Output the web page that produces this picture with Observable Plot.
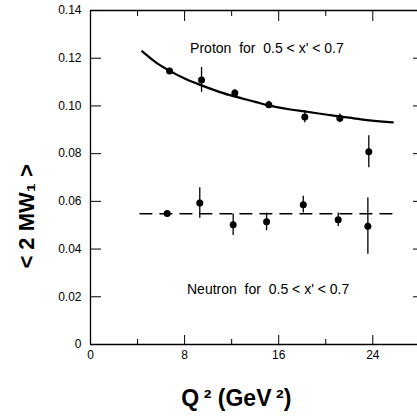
<!DOCTYPE html>
<html><head><meta charset="utf-8">
<script src="https://cdn.jsdelivr.net/npm/d3@7"></script>
<script src="https://cdn.jsdelivr.net/npm/@observablehq/plot@0.6"></script>
<style>body{margin:0;background:#fff;} svg{display:block;}</style>
</head><body><div id="chart"></div>
<script>
// Proton data points (Q^2, <2MW1>, error)
const protonQ   = [6.72, 9.44, 12.27, 15.16, 18.22, 21.2, 23.66];
const protonV   = [0.1146, 0.1109, 0.1054, 0.1005, 0.0954, 0.0948, 0.0808];
const protonErr = [0.0012, 0.0052, 0.0015, 0.0015, 0.0025, 0.0018, 0.0067];

// Proton fitted curve
const curveQ = [4.4, 5.5, 6.7, 8, 9.5, 11, 12.3, 14, 15.2, 17, 18.2, 20, 21.2, 23, 25.7];
const curveV = [0.1229, 0.1185, 0.1148, 0.1115, 0.1085, 0.1058, 0.1039, 0.1017, 0.1001, 0.0985, 0.0977, 0.0964, 0.0956, 0.0944, 0.0931];

// Neutron data points
const neutronQ   = [6.52, 9.29, 12.13, 14.97, 18.09, 21.06, 23.58];
const neutronV   = [0.0549, 0.0593, 0.0502, 0.0514, 0.0586, 0.0523, 0.0496];
const neutronErr = [0.0008, 0.0064, 0.0045, 0.0037, 0.0035, 0.0028, 0.0118];

// Neutron dashed constant line
const nLineQ = [4.2, 25.9];
const nLineV = [0.0548, 0.0548];

// Ticks and labels
const xMajorTicks = [0, 8, 16, 24];
const xMinorTicks = [4, 12, 20];
const yTicks = [0, 0.02, 0.04, 0.06, 0.08, 0.10, 0.12, 0.14];
const yTickLabels = ["0", "0.02", "0.04", "0.06", "0.08", "0.10", "0.12", "0.14"];
const xTitle = "Q\u2009\u00B2 (GeV\u2009\u00B2)";
const yTitle = "< 2 MW\u2081 >";
const protonLabel = "Proton  for  0.5 < x' < 0.7";
const neutronLabel = "Neutron  for  0.5 < x' < 0.7";

const proton = protonQ.map((q, i) => ({q, v: protonV[i], e: protonErr[i]}));
const neutron = neutronQ.map((q, i) => ({q, v: neutronV[i], e: neutronErr[i]}));
const curve = curveQ.map((q, i) => ({q, v: curveV[i]}));
const nLine = nLineQ.map((q, i) => ({q, v: nLineV[i]}));

const innerMajor = xMajorTicks.filter(d => d > 0);
const innerY = yTicks.slice(1, -1);

const plot = Plot.plot({
  width: 417, height: 416,
  marginLeft: 90, marginRight: 0, marginTop: 10, marginBottom: 72,
  style: {fontFamily: "'Liberation Sans', Arial, sans-serif", fontSize: "12px", background: "white", color: "black"},
  x: {domain: [0, 27.8]},
  y: {domain: [0, 0.14]},
  marks: [
    Plot.ruleX([0], {strokeWidth: 1.3}),
    Plot.ruleY([yTicks[0], yTicks[yTicks.length - 1]], {strokeWidth: 1.3}),
    Plot.axisX({anchor: "bottom", ticks: innerMajor, tickSize: -9, fill: "none", label: null}),
    Plot.axisX({anchor: "bottom", ticks: xMinorTicks, tickSize: -5, fill: "none", label: null}),
    Plot.axisX({anchor: "bottom", ticks: xMajorTicks, tickSize: 0, tickPadding: 6, label: null, fontSize: 12}),
    Plot.axisX({anchor: "top", ticks: innerMajor, tickSize: -10, fill: "none", label: null}),
    Plot.axisX({anchor: "top", ticks: xMinorTicks, tickSize: -5, fill: "none", label: null}),
    Plot.axisY({anchor: "left", ticks: innerY, tickSize: -11, fill: "none", label: null}),
    Plot.axisY({anchor: "left", ticks: yTicks, tickSize: 0, tickPadding: 9, label: null, fontSize: 12,
      tickFormat: d => yTickLabels[yTicks.indexOf(d)]}),
    Plot.axisY({anchor: "right", ticks: innerY, tickSize: -5, fill: "none", label: null}),
    // neutron dashed line
    Plot.line(nLine, {x: "q", y: "v", stroke: "black", strokeWidth: 1.3, strokeDasharray: "12,8"}),
    // proton curve
    Plot.line(curve, {x: "q", y: "v", stroke: "black", strokeWidth: 2.2, curve: "monotone-x"}),
    // error bars
    Plot.ruleX(proton, {x: "q", y1: d => d.v - d.e, y2: d => d.v + d.e, strokeWidth: 1.3}),
    Plot.ruleX(neutron, {x: "q", y1: d => d.v - d.e, y2: d => d.v + d.e, strokeWidth: 1.3}),
    Plot.dot(proton, {x: "q", y: "v", r: 3.5, fill: "black"}),
    Plot.dot(neutron, {x: "q", y: "v", r: 3.5, fill: "black"}),
    // annotations
    Plot.text([protonLabel], {x: 15.0, y: 0.1242, fontSize: 14}),
    Plot.text([neutronLabel], {x: 15.1, y: 0.0232, fontSize: 14}),
    // titles
    Plot.text([xTitle], {x: 12.4, y: -0.0226, textAnchor: "middle", lineAnchor: "middle", fontSize: 23, fontWeight: "bold"}),
    Plot.text([yTitle], {x: -5.4, y: 0.0537, rotate: -90, textAnchor: "middle", lineAnchor: "middle", fontSize: 22, fontWeight: "bold"})
  ]
});
document.getElementById("chart").appendChild(plot);
</script>
</body></html>
